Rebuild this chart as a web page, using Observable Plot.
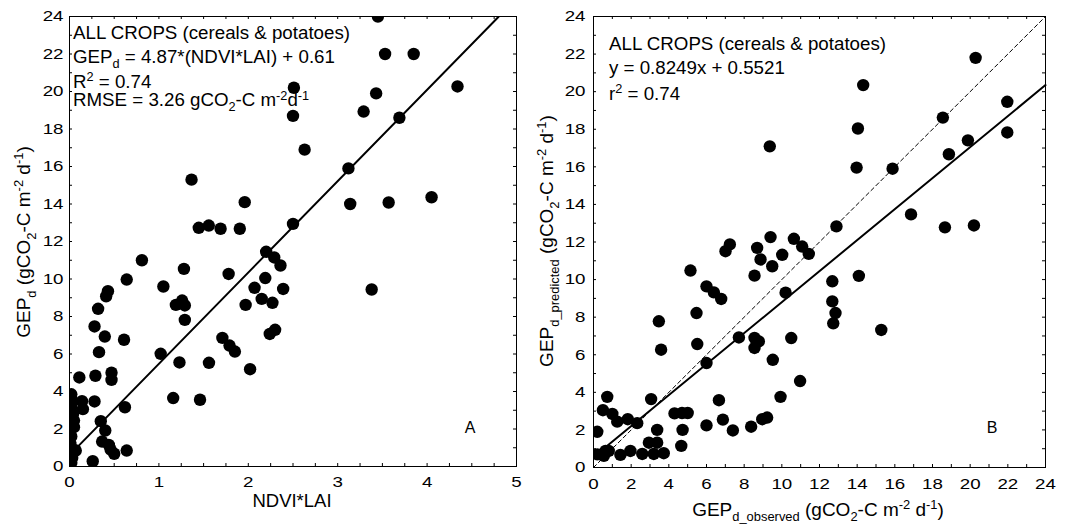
<!DOCTYPE html>
<html>
<head>
<meta charset="utf-8">
<script src="https://cdn.jsdelivr.net/npm/d3@7"></script>
<script src="https://cdn.jsdelivr.net/npm/@observablehq/plot@0.6"></script>
<style>
  html, body { margin: 0; padding: 0; background: #fff; }
  #wrap { position: relative; width: 1070px; height: 527px; overflow: hidden; font-family: "Liberation Sans", Arial, sans-serif; }
  #panelA, #panelB { position: absolute; top: 0; }
  #panelA { left: 0; }
  #panelB { left: 535px; }
  svg { display: block; }
</style>
</head>
<body>
<div id="wrap"><div id="panelA"></div><div id="panelB"></div></div>
<script>
// ---------- Panel A data: NDVI*LAI vs observed GEPd ----------
const ndviLai = [3.45,3.53,3.85,4.34,2.51,2.50,3.43,3.29,3.69,2.63,3.12,3.14,3.57,4.05,2.50,2.20,2.29,2.36,2.19,2.39,2.15,2.27,2.30,2.24,3.38,
  1.365,1.446,1.558,1.69,1.905,1.96,0.81,0.64,1.05,1.28,0.43,0.41,0.32,0.28,0.395,0.61,0.33,0.29,0.47,0.47,0.11,0.28,0.62,0.14,0.15,
  0.35,0.40,0.365,0.44,0.50,0.46,0.64,0.26,0.07,1.02,1.23,1.16,1.46,1.56,1.19,1.26,1.29,1.29,1.78,1.71,1.79,1.85,1.97,2.02,2.07,
  0.02,0.03,0.02,0.04,0.05,0.05,0.02,0.06,0.03,0.02,0.01];
const gepA = [24.0,22.0,22.0,20.27,20.2,18.7,19.9,18.93,18.6,16.9,15.9,14.0,14.08,14.36,12.94,11.45,11.15,10.72,10.05,9.47,8.94,8.73,7.29,7.07,9.44,
  15.3,12.73,12.85,12.68,12.68,14.1,11.0,9.97,9.6,10.54,9.35,9.08,8.41,7.47,6.93,6.76,6.1,4.84,5.0,4.62,4.75,3.47,3.16,3.48,3.06,
  2.42,1.92,1.33,1.15,0.68,0.9,0.85,0.28,0.85,6.01,5.55,3.65,3.56,5.53,8.62,8.85,8.59,7.82,10.27,6.86,6.45,6.13,8.62,5.19,9.53,
  3.85,3.5,3.2,2.8,2.45,2.1,1.6,0.85,0.45,0.2,1.2];

// ---------- Panel B data: observed vs predicted GEPd ----------
const gepObs = [0.2,0.55,0.81,0.64,0.2,0.73,0.5,1.0,1.26,1.43,1.82,1.96,2.32,2.59,2.94,3.06,3.2,3.38,3.38,3.73,3.47,3.59,
  4.3,4.7,5.0,4.73,4.66,5.15,5.47,5.51,6.0,6.0,6.39,6.78,6.0,6.66,6.87,7.4,7.72,7.01,7.24,8.37,8.55,8.78,8.55,8.55,8.69,8.87,
  8.96,9.22,9.36,9.4,9.49,9.52,9.93,10.02,10.2,10.5,10.64,10.97,11.08,11.43,12.68,12.68,12.85,12.73,12.9,13.97,14.04,14.09,
  14.32,15.28,15.88,16.86,18.55,18.66,18.87,19.88,20.2,20.29,21.97,21.97];
const gepPred = [0.7,0.62,0.88,0.88,1.9,3.76,3.05,2.85,2.44,0.67,2.57,0.88,2.36,0.72,1.32,3.64,0.72,1.32,2.0,0.76,7.78,6.27,
  2.88,2.9,2.9,2.0,1.15,10.48,8.22,6.57,5.56,9.64,9.32,8.97,2.24,3.58,2.55,1.97,6.92,11.51,11.87,2.17,6.9,6.71,6.36,10.21,11.69,11.07,
  2.57,2.66,17.09,12.26,10.71,5.73,3.76,11.32,9.3,6.89,12.17,4.6,11.76,11.37,9.91,8.84,8.22,7.67,12.83,15.96,18.04,10.2,
  20.35,7.32,15.9,13.47,18.62,12.78,16.67,17.41,12.88,21.8,19.46,17.83];

// regression equations printed on the chart
const fitA = { slope: 4.87, intercept: 0.61, xRange: [0, 4.80] };
const fitB = { slope: 0.8249, intercept: 0.5521, xRange: [0.2, 24] };
const oneToOne = [0, 24];

// tick values
const xTicksA = [0, 1, 2, 3, 4, 5];
const xMinorA = d3.range(0, 5.001, 0.25);
const yTicks = d3.range(0, 25, 2);
const yMinor = d3.range(0, 25, 1);
const xTicksB = d3.range(0, 25, 2);
const xMinorB = d3.range(0, 25, 1);

const dataA = ndviLai.map((x, i) => ({x, y: gepA[i]}));
const dataB = gepObs.map((x, i) => ({x, y: gepPred[i]}));
const lineA = fitA.xRange.map(x => ({x, y: fitA.slope * x + fitA.intercept}));
const lineB = fitB.xRange.map(x => ({x, y: fitB.slope * x + fitB.intercept}));
const line11 = oneToOne.map(v => ({x: v, y: v}));

const FONT = "Liberation Sans, Arial, Helvetica, sans-serif";
const TICK_SX = 1.25;

function frameTicks(xt, yt, innerW, innerH, len) {
  return [
    Plot.ruleX(xt, {x: d => d, insetTop: innerH - len, stroke: "#000"}),
    Plot.ruleX(xt, {x: d => d, insetBottom: innerH - len, stroke: "#000"}),
    Plot.ruleY(yt, {y: d => d, insetRight: innerW - len, stroke: "#000"}),
    Plot.ruleY(yt, {y: d => d, insetLeft: innerW - len, stroke: "#000"})
  ];
}

function stretchTexts(svg, sx) {
  svg.querySelectorAll("text").forEach(t => {
    const tr = t.getAttribute("transform");
    if (tr) t.setAttribute("transform", tr + ` scale(${sx},1)`);
    else {
      const x = +(t.getAttribute("x") || 0), y = +(t.getAttribute("y") || 0);
      t.setAttribute("transform", `translate(${x},${y}) scale(${sx},1) translate(${-x},${-y})`);
    }
  });
}

function rich(svg, x, y, parts, {size = 16, sx = 1, rotate = 0, anchor = "start", sub = 0.3, sup = 0.38} = {}) {
  const t = d3.select(svg).append("text")
    .attr("transform", `translate(${x},${y})${rotate ? ` rotate(${rotate})` : ""} scale(${sx},1)`)
    .attr("text-anchor", anchor)
    .attr("font-family", FONT)
    .attr("font-size", size)
    .attr("fill", "#000");
  let cur = 0;
  for (const p of parts) {
    const [txt, kind] = typeof p === "string" ? [p, null] : p;
    const target = kind === "sub" ? size * sub : kind === "sup" ? -size * sup : 0;
    const span = t.append("tspan").attr("dy", target - cur).text(txt);
    if (kind) span.attr("font-size", size * 0.68);
    cur = target;
  }
  return t;
}

// ---------------- Panel A ----------------
const WA = 535, HA = 527, mlA = 69, mrA = 19, mtA = 16, mbA = 61;
const innerWA = WA - mlA - mrA, innerHA = HA - mtA - mbA;
const plotA = Plot.plot({
  width: WA, height: HA,
  marginLeft: mlA, marginRight: mrA, marginTop: mtA, marginBottom: mbA,
  style: {fontFamily: FONT, background: "#fff", color: "#000", overflow: "visible"},
  x: {domain: [0, 5]},
  y: {domain: [0, 24]},
  marks: [
    ...frameTicks(xMinorA, yMinor, innerWA, innerHA, 3),
    Plot.dot(dataA, {x: "x", y: "y", r: 6.2, fill: "#000", stroke: "none", clip: true}),
    Plot.line(lineA, {x: "x", y: "y", stroke: "#000", strokeWidth: 2, clip: true}),
    Plot.frame({stroke: "#000", strokeWidth: 1}),
    Plot.axisX({ticks: xTicksA, tickSize: 0, tickPadding: 10, fontSize: 15, label: null, tickFormat: d => String(d)}),
    Plot.axisY({ticks: yTicks, tickSize: 0, tickPadding: 6, fontSize: 15, label: null, tickFormat: d => String(d)})
  ]
});
stretchTexts(plotA, TICK_SX);
document.getElementById("panelA").appendChild(plotA);

// ---------------- Panel B ----------------
const WB = 535, HB = 527, mlB = 58, mrB = 25, mtB = 16, mbB = 60;
const innerWB = WB - mlB - mrB, innerHB = HB - mtB - mbB;
const plotB = Plot.plot({
  width: WB, height: HB,
  marginLeft: mlB, marginRight: mrB, marginTop: mtB, marginBottom: mbB,
  style: {fontFamily: FONT, background: "#fff", color: "#000", overflow: "visible"},
  x: {domain: [0, 24]},
  y: {domain: [0, 24]},
  marks: [
    ...frameTicks(xMinorB, yMinor, innerWB, innerHB, 3),
    Plot.line(line11, {x: "x", y: "y", stroke: "#000", strokeWidth: 1, strokeDasharray: "4,3"}),
    Plot.dot(dataB, {x: "x", y: "y", r: 6.2, fill: "#000", stroke: "none", clip: true}),
    Plot.line(lineB, {x: "x", y: "y", stroke: "#000", strokeWidth: 2}),
    Plot.frame({stroke: "#000", strokeWidth: 1}),
    Plot.axisX({ticks: xTicksB, tickSize: 0, tickPadding: 11, fontSize: 15, label: null, tickFormat: d => String(d)}),
    Plot.axisY({ticks: yTicks, tickSize: 0, tickPadding: 8, fontSize: 15, label: null, tickFormat: d => String(d)})
  ]
});
stretchTexts(plotB, TICK_SX);
document.getElementById("panelB").appendChild(plotB);

// ---------------- Annotations & axis titles ----------------
const ANN = 17.5, ANN_SX = 1.07;
// Panel A
rich(plotA, 73, 39, ["ALL CROPS (cereals & potatoes)"], {size: ANN, sx: ANN_SX});
rich(plotA, 73, 63, ["GEP", ["d", "sub"], " = 4.87*(NDVI*LAI) + 0.61"], {size: ANN, sx: ANN_SX});
rich(plotA, 73, 87.5, ["R", ["2", "sup"], " = 0.74"], {size: ANN, sx: ANN_SX});
rich(plotA, 73, 106, ["RMSE = 3.26 gCO", ["2", "sub"], "-C m", ["-2", "sup"], "d", ["-1", "sup"]], {size: ANN, sx: ANN_SX, sup: 0.33});
rich(plotA, 470, 433, ["A"], {size: 16, anchor: "middle"});
rich(plotA, 292, 507, ["NDVI*LAI"], {size: 18.5, anchor: "middle"});
rich(plotA, 30, 242, ["GEP", ["d", "sub"], " (gCO", ["2", "sub"], "-C m", ["-2", "sup"], " d", ["-1", "sup"], ")"], {size: 19, anchor: "middle", rotate: -90});

// Panel B (local x = page x - 535)
rich(plotB, 609 - 535, 50, ["ALL CROPS (cereals & potatoes)"], {size: ANN, sx: ANN_SX});
rich(plotB, 609 - 535, 74, ["y = 0.8249x + 0.5521"], {size: ANN, sx: ANN_SX});
rich(plotB, 609 - 535, 100, ["r", ["2", "sup"], " = 0.74"], {size: ANN, sx: ANN_SX});
rich(plotB, 992 - 535, 433, ["B"], {size: 16, anchor: "middle"});
rich(plotB, 818 - 535, 516, ["GEP", ["d_observed", "sub"], " (gCO", ["2", "sub"], "-C m", ["-2", "sup"], " d", ["-1", "sup"], ")"], {size: 19, anchor: "middle", sub: 0.24});
rich(plotB, 553 - 535, 241, ["GEP", ["d_predicted", "sub"], " (gCO", ["2", "sub"], "-C m", ["-2", "sup"], " d", ["-1", "sup"], ")"], {size: 19, anchor: "middle", rotate: -90});
</script>
</body>
</html>
